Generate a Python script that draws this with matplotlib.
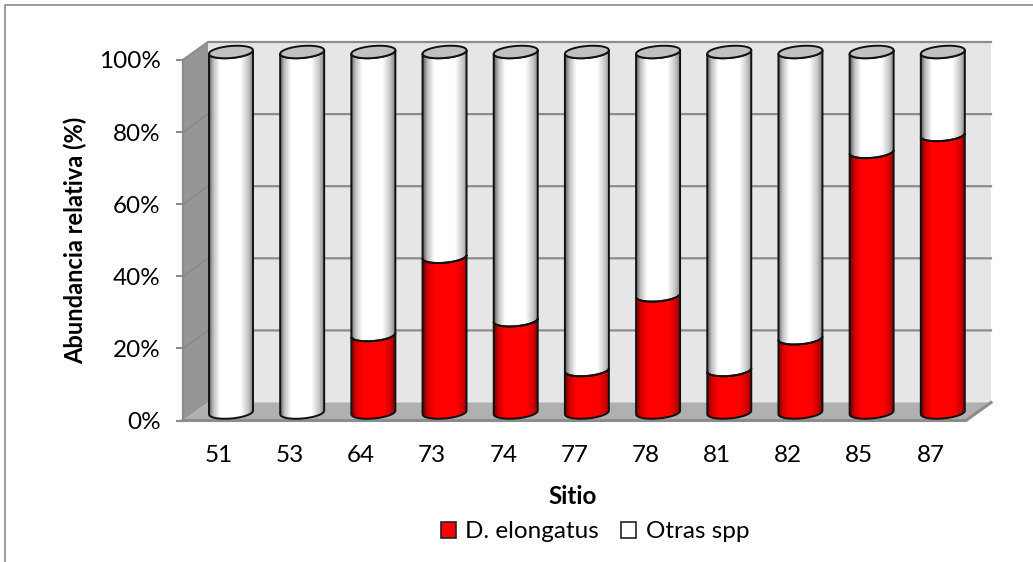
import matplotlib
matplotlib.use('Agg')
import matplotlib.pyplot as plt
import numpy as np
from matplotlib.colors import LinearSegmentedColormap
from matplotlib.lines import Line2D
from matplotlib.patches import Patch, PathPatch, Polygon
from matplotlib.path import Path

sitios = ['51', '53', '64', '73', '74', '77', '78', '81', '82', '85', '87']
elongatus = [0, 0, 21.5, 43.2, 25.6, 11.8, 32.5, 11.8, 20.6, 72.3, 77]
otras = [100 - v for v in elongatus]
y_ticks = [0, 20, 40, 60, 80, 100]
y_labels = ['0%', '20%', '40%', '60%', '80%', '100%']

W, H = 1033, 562
plt.rcParams['font.family'] = ['Lato', 'DejaVu Sans']

fig = plt.figure(figsize=(W / 100, H / 100), dpi=100)

# plano frontal del grafico, en pixeles
left, right, top, bottom = 183, 966, 60, 420.5
ax = fig.add_axes([left / W, 1 - bottom / H, (right - left) / W, (bottom - top) / H])
ax.set_xlim(-0.5, len(sitios) - 0.5)
ax.set_ylim(0, 100)
ax.patch.set_visible(False)

px_x = (len(sitios)) / (right - left)  # unidades de x por pixel
px_y = 100 / (bottom - top)


def pared(puntos, color, z=0):
    ax.add_patch(Polygon(puntos, closed=True, facecolor=color, edgecolor='none',
                         clip_on=False, zorder=z))


# profundidad 3D
dx = 25 * px_x
dy = 18 * px_y
x0, x1 = ax.get_xlim()

pared([(x0 + dx, dy), (x1 + dx, dy), (x1 + dx, 100 + dy), (x0 + dx, 100 + dy)], '#e6e6e6')
pared([(x0, 0), (x0 + dx, dy), (x0 + dx, 100 + dy), (x0, 100)], '#969696')
pared([(x0, 0), (x1, 0), (x1 + dx, dy), (x0 + dx, dy)], '#b0b0b0')

gris = '#8c8c8c'
for t in y_ticks[1:]:
    ax.plot([x0, x0 + dx, x1 + dx], [t, t + dy, t + dy], color=gris, lw=1.6,
            clip_on=False, zorder=1, solid_joinstyle='miter')
ax.plot([x0, x0], [0, 100], color=gris, lw=1.6, clip_on=False, zorder=1)
ax.plot([x0, x1, x1 + dx], [0, 0, dy], color=gris, lw=2.2, clip_on=False, zorder=1)

# cilindros
cmap_rojo = LinearSegmentedColormap.from_list(
    'rojo', [(0, '#6a0000'), (0.1, '#d00000'), (0.25, '#ff0000'), (0.75, '#ff0000'),
             (0.9, '#d00000'), (1, '#8a0000')])
cmap_blanco = LinearSegmentedColormap.from_list(
    'blanco', [(0, '#606060'), (0.1, '#c0c0c0'), (0.25, '#ffffff'), (0.72, '#ffffff'),
               (0.9, '#c4c4c4'), (1, '#888888')])
degradado = np.linspace(0, 1, 128).reshape(1, -1)

radio = 22 * px_x
alto_e = 6 * px_y
incl = 1.8 * px_y
sube_x = 12.4 * px_x
sube_y = 8 * px_y


def arco(cx, cy, t0, t1):
    t = np.linspace(t0, t1, 50)
    return np.column_stack([cx + radio * np.cos(t),
                            cy - alto_e * np.sin(t) + incl * np.cos(t)])


def cilindro(i, v0, v1, cmap):
    cx = i + sube_x
    # los dos extremos con el arco delantero, la tapa cubre el de arriba
    abajo = arco(cx, v0 + sube_y, np.pi, 0)
    arriba = arco(cx, v1 + sube_y, 0, np.pi)
    path = Path(np.vstack([abajo, arriba, abajo[:1]]))
    borde = PathPatch(path, facecolor='none', edgecolor='#111111', lw=1.4,
                      clip_on=False, zorder=5)
    ax.add_patch(borde)
    im = ax.imshow(degradado, cmap=cmap, aspect='auto', zorder=4,
                   extent=[cx - radio, cx + radio, v0 - 3, v1 + sube_y + 3])
    im.set_clip_box(fig.bbox)
    im.set_clip_path(borde)


for i in range(len(sitios)):
    if elongatus[i] > 0:
        cilindro(i, 0, elongatus[i], cmap_rojo)
    cilindro(i, elongatus[i], elongatus[i] + otras[i], cmap_blanco)
    # tapa superior
    tapa = arco(i + sube_x, 100 + sube_y, 0, 2 * np.pi)
    ax.add_patch(Polygon(tapa, closed=True, facecolor='#c0c0c0', edgecolor='#111111',
                         lw=1.4, clip_on=False, zorder=6))

ax.set_xlim(x0, x1)
ax.set_ylim(0, 100)

for s in ax.spines.values():
    s.set_visible(False)
ax.set_xticks(range(len(sitios)))
ax.set_xticklabels(sitios)
ax.set_yticks(y_ticks)
ax.set_yticklabels(y_labels)
ax.tick_params(axis='x', length=0, pad=17.5, labelsize=17.5, colors='black')
ax.tick_params(axis='y', length=5, width=1.5, color=gris, labelcolor='black', pad=11, labelsize=17.5)

fig.text(573 / W, 1 - 496 / H, 'Sitio', fontsize=17.5, fontweight='bold',
         ha='center', va='center')
fig.text(75 / W, 1 - 240 / H, 'Abundancia relativa (%)', fontsize=17, fontweight='bold',
         rotation=90, ha='center', va='center')

handles = [Patch(facecolor='#ff0000', edgecolor='#222222', lw=1.2),
           Patch(facecolor='white', edgecolor='#222222', lw=1.2)]
fig.legend(handles, ['D. elongatus', 'Otras spp'], ncol=2, frameon=False, fontsize=17.5,
           loc='center', bbox_to_anchor=(595 / W, 1 - 532 / H), handlelength=0.62,
           handleheight=0.62, handletextpad=0.4, columnspacing=0.9)

# marco exterior
fig.add_artist(Line2D([5 / W, 5 / W, 1], [0, 1 - 5 / H, 1 - 5 / H], color='#8a8a8a', lw=1.2))

fig.savefig('out.png', dpi=100)
